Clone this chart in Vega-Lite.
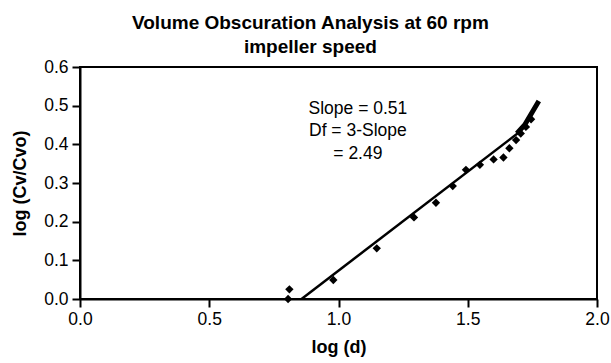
{
  "$schema": "https://vega.github.io/schema/vega-lite/v6.json",
  "width": 517,
  "height": 232,
  "autosize": {"type": "none"},
  "padding": {"left": 80, "top": 67, "right": 14, "bottom": 64},
  "background": "white",
  "config": {
    "font": "Liberation Sans",
    "view": {"stroke": "black", "strokeWidth": 2},
    "axis": {
      "grid": false,
      "domainColor": "black",
      "domainWidth": 2,
      "tickColor": "black",
      "tickWidth": 2,
      "tickSize": 8,
      "labelFlush": false,
      "labelOverlap": false,
      "labelFont": "Liberation Sans",
      "labelFontSize": 17.5,
      "labelColor": "black",
      "titleFont": "Liberation Sans",
      "titleFontSize": 18,
      "titleFontWeight": "bold",
      "titleColor": "black"
    }
  },
  "title": {
    "text": ["Volume Obscuration Analysis at 60 rpm", "impeller speed"],
    "font": "Liberation Sans",
    "fontSize": 19,
    "fontWeight": "bold",
    "color": "black",
    "anchor": "middle",
    "frame": "bounds",
    "lineHeight": 24,
    "offset": 1
  },
  "datasets": {
    "points": [
      {"x": 0.805, "y": 0.0},
      {"x": 0.81, "y": 0.025},
      {"x": 0.98, "y": 0.049},
      {"x": 1.148, "y": 0.131},
      {"x": 1.292, "y": 0.211},
      {"x": 1.377, "y": 0.249},
      {"x": 1.442, "y": 0.292},
      {"x": 1.493, "y": 0.334},
      {"x": 1.547, "y": 0.347},
      {"x": 1.6, "y": 0.361},
      {"x": 1.638, "y": 0.366},
      {"x": 1.661, "y": 0.39},
      {"x": 1.687, "y": 0.411},
      {"x": 1.705, "y": 0.428},
      {"x": 1.725, "y": 0.445},
      {"x": 1.745, "y": 0.465}
    ],
    "fit": [
      {"x": 0.857, "y": 0.0},
      {"x": 1.70, "y": 0.432}
    ],
    "curve": [
      {"x": 1.69, "y": 0.428},
      {"x": 1.72, "y": 0.45},
      {"x": 1.775, "y": 0.512}
    ],
    "notes": [
      {"x": 1.075, "y": 0.492, "t": "Slope = 0.51"},
      {"x": 1.075, "y": 0.434, "t": "Df = 3-Slope"},
      {"x": 1.075, "y": 0.376, "t": "= 2.49"}
    ]
  },
  "encoding": {
    "x": {
      "field": "x", "type": "quantitative",
      "scale": {"domain": [0, 2], "nice": false},
      "axis": {"values": [0, 0.5, 1, 1.5, 2], "format": ".1f", "title": "log (d)", "titlePadding": 11, "labelPadding": 3}
    },
    "y": {
      "field": "y", "type": "quantitative",
      "scale": {"domain": [0, 0.6], "nice": false},
      "axis": {"values": [0, 0.1, 0.2, 0.3, 0.4, 0.5, 0.6], "tickCount": 7, "format": ".1f", "title": "log (Cv/Cvo)", "titlePadding": 14, "labelPadding": 4}
    }
  },
  "layer": [
    {
      "data": {"name": "fit"},
      "mark": {"type": "line", "color": "black", "strokeWidth": 2.5}
    },
    {
      "data": {"name": "curve"},
      "mark": {"type": "line", "color": "black", "strokeWidth": 5}
    },
    {
      "data": {"name": "points"},
      "mark": {"type": "point", "shape": "diamond", "filled": true, "color": "black", "opacity": 1, "size": 70}
    },
    {
      "data": {"name": "notes"},
      "mark": {"type": "text", "fontSize": 17.5, "color": "black", "align": "center", "baseline": "middle", "font": "Liberation Sans"},
      "encoding": {
        "text": {"field": "t"}
      }
    }
  ]
}
